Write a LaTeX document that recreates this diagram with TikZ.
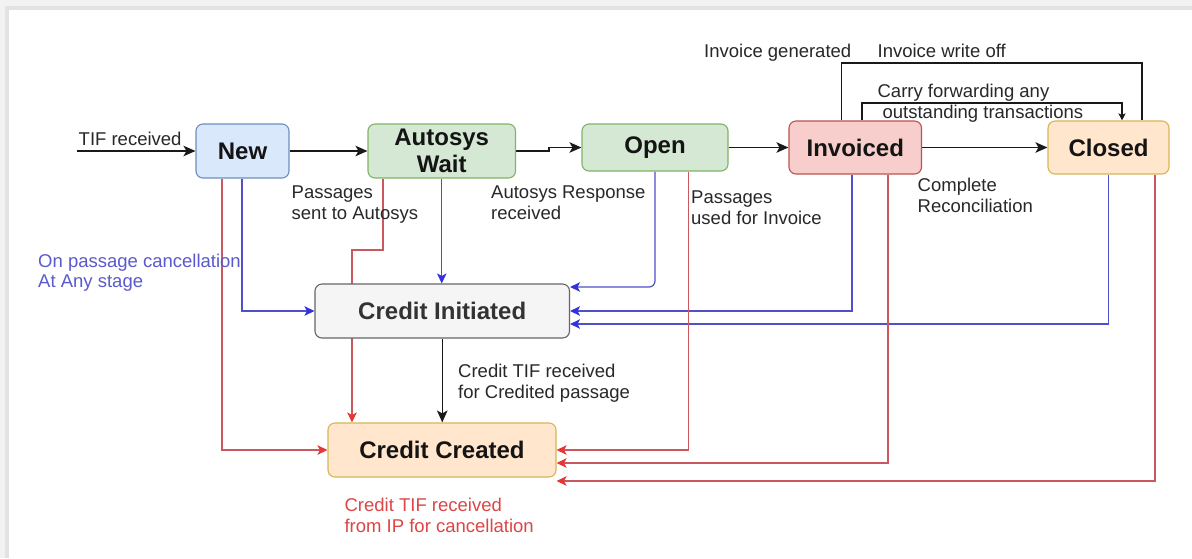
\documentclass[tikz,border=0pt]{standalone}
\usepackage{fontspec}
\setmainfont{Liberation Sans}
\usetikzlibrary{arrows.meta,backgrounds}

\definecolor{newfill}{HTML}{DAE8FC}\definecolor{newdraw}{HTML}{6C8EBF}
\definecolor{grnfill}{HTML}{D5E8D4}\definecolor{grndraw}{HTML}{82B366}
\definecolor{redfill}{HTML}{F8CECC}\definecolor{reddraw}{HTML}{B85450}
\definecolor{orgfill}{HTML}{FFE6CC}\definecolor{orgdraw}{HTML}{D6B656}
\definecolor{gryfill}{HTML}{F5F5F5}\definecolor{grydraw}{HTML}{666666}
\definecolor{txt}{RGB}{40,40,40}
\definecolor{blueline}{RGB}{80,80,200}
\definecolor{bluetip}{RGB}{50,50,225}
\definecolor{redline}{RGB}{200,90,95}
\definecolor{redtip}{RGB}{230,55,55}
\definecolor{bluetext}{RGB}{90,90,205}
\definecolor{redtext}{RGB}{220,70,70}

\tikzset{
  state/.style={draw, rounded corners=7pt, line width=1.1pt, inner sep=0pt,
    font=\fontsize{24}{27}\selectfont\bfseries, text=black!92, align=center},
  lbl/.style={anchor=north west, inner sep=0pt, align=left,
    font=\fontsize{18.5}{21}\selectfont, text=txt},
  flowline/.style={line width=1.5pt, draw=black!90},
  flow/.style={flowline, -{Stealth[length=12pt,width=10.5pt,inset=3pt]}},
  smallflow/.style={flowline, -{Stealth[length=7pt,width=7pt,inset=1.5pt]}},
  cancel/.style={line width=1.2pt, draw=blueline,
    -{Stealth[length=10pt,width=9.5pt,inset=2.5pt,color=bluetip]}},
  refund/.style={line width=1.2pt, draw=redline,
    -{Stealth[length=10pt,width=9.5pt,inset=2.5pt,color=redtip]}}
}

\begin{document}
\begin{tikzpicture}[x=1pt,y=-1pt]
\useasboundingbox (0,0) rectangle (1192,558);

% states
\node[state, fill=newfill, draw=newdraw, minimum width=93pt, minimum height=54pt] (new) at (242.5,151) {New};
\node[state, fill=grnfill, draw=grndraw, minimum width=147.5pt, minimum height=54pt] (aw) at (441.75,151) {Autosys\\Wait};
\node[state, fill=grnfill, draw=grndraw, minimum width=146pt, minimum height=47pt] (open) at (655,147.5) {Open};
\node[state, fill=redfill, draw=reddraw, minimum width=132.5pt, minimum height=53pt] (inv) at (855.25,147.5) {Invoiced};
\node[state, fill=orgfill, draw=orgdraw, minimum width=121pt, minimum height=53pt] (clo) at (1108.5,147.5) {Closed};
\node[state, fill=gryfill, draw=grydraw, text=black!80, minimum width=254.5pt, minimum height=54pt] (ci) at (442.25,311) {Credit Initiated};
\node[state, fill=orgfill, draw=orgdraw, minimum width=228pt, minimum height=54pt] (cc) at (442,450) {Credit Created};

% labels
\node[lbl] (l1) at (78.5,131.7) {TIF received};
\node[lbl] (l2) at (291.5,185.7) {Passages\\sent to Autosys};
\node[lbl] (l3) at (491,185.7) {Autosys Response\\received};
\node[lbl] (l4) at (691,190.7) {Passages\\used for Invoice};
\node[lbl] (l5) at (917.5,177.7) {Complete\\Reconciliation};
\node[lbl] (l6) at (704,43.7) {Invoice generated};
\node[lbl] (l7) at (877.4,43.7) {Invoice write off};
\node[lbl] (l8) at (877.4,83.7) {Carry forwarding any\\\hspace*{5pt}outstanding transactions};
\node[lbl, text=bluetext, font=\fontsize{18.5}{20}\selectfont] (l9) at (38,253.4) {On passage cancellation\\At Any stage};
\node[lbl] (l10) at (458,364) {Credit TIF received\\for Credited passage};
\node[lbl, text=redtext] (l11) at (344.4,497.4) {Credit TIF received\\from IP for cancellation};

\coordinate (tifin) at (76.5,151);

\begin{pgfonlayer}{background}
  % frame
  \fill[gray!10] (0,0) rectangle (1192,558);
  \fill[gray!22] (5,6) rectangle (1192,558);
  \fill[white] (9,10) rectangle (1192,558);

  % main flow
  \draw[flow] (tifin) -- (new.west);
  \draw[flow] (new.east) -- (aw.west);
  \draw[flow] (aw.east) -- ++(33,0) |- (open.west);
  \draw[flow] (open.east) -- (inv.west);
  \draw[flow] (inv.east) -- (clo.west);
  \draw[flowline] (841.5,0 |- inv.north) -- (841.5,63) -| (1142,0 |- clo.north);
  \draw[smallflow] (862,0 |- inv.north) -- (862,103) -| (1122,0 |- clo.north);
  \draw[flow] (ci.south) -- (ci.south |- cc.north);

  % cancellation paths
  \draw[cancel] (242,0 |- new.south) |- (ci.west);
  \draw[cancel] (aw.south) -- (aw.south |- ci.north);
  \draw[cancel, rounded corners=6pt] (open.south) |- (ci.east |- 0,287);
  \draw[cancel] (852,0 |- inv.south) |- (ci.east);
  \draw[cancel] (clo.south) |- (ci.east |- 0,324);

  % credit paths
  \draw[refund] (222,0 |- new.south) |- (cc.west);
  \draw[refund] (383,0 |- aw.south) -- (383,250) -| (352,0 |- cc.north);
  \draw[refund] (688.5,0 |- open.south) |- (cc.east);
  \draw[refund] (888,0 |- inv.south) |- (cc.east |- 0,463);
  \draw[refund] (1155,0 |- clo.south) |- (cc.east |- 0,481);
\end{pgfonlayer}
\end{tikzpicture}
\end{document}
